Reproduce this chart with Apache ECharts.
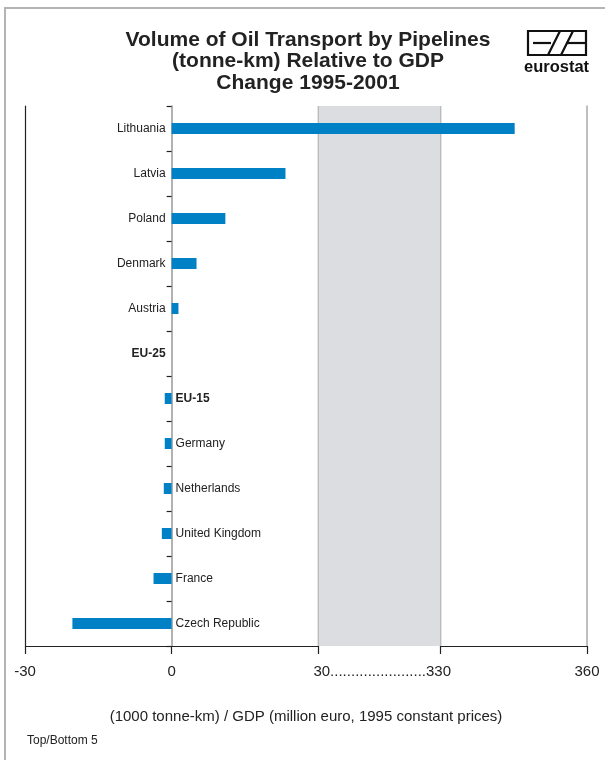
<!DOCTYPE html>
<html>
<head>
<meta charset="utf-8">
<script src="https://cdn.jsdelivr.net/npm/echarts@6/dist/echarts.min.js"></script>
<style>
html,body{margin:0;padding:0;background:#fff;}
#c{width:605px;height:760px;}
</style>
</head>
<body>
<div id="c"></div>
<script>
const categories = ['Lithuania','Latvia','Poland','Denmark','Austria','EU-25','EU-15','Germany','Netherlands','United Kingdom','France','Czech Republic'];
const values = [345.2, 23.3, 11.0, 5.1, 1.4, 0, -1.4, -1.4, -1.6, -2.0, -3.7, -20.3];
const boldCats = ['EU-25','EU-15'];
const xTicks = { min: -30, max: 360, interval: 30 };
const breakRange = { start: 30, end: 330, gap: 25 };

const FONT = 'Liberation Sans, Arial, sans-serif';
const chart = echarts.init(document.getElementById('c'), null, { renderer: 'canvas' });

const seriesData = values.map((v, i) => ({
  value: v,
  label: {
    show: true,
    position: v >= 0 ? 'left' : 'right',
    distance: v >= 0 ? 6 : 4,
    formatter: '{b}',
    fontFamily: FONT,
    fontSize: 12,
    color: '#222',
    fontWeight: boldCats.includes(categories[i]) ? 'bold' : 'normal'
  }
}));

const option = {
  animation: false,
  backgroundColor: '#fff',
  title: {
    text: 'Volume of Oil Transport by Pipelines\n(tonne-km) Relative to GDP\nChange 1995-2001',
    left: 303, top: 24, textAlign: 'center',
    textStyle: { fontFamily: FONT, fontSize: 21, fontWeight: 'bold', color: '#222', lineHeight: 21.5 }
  },
  grid: { left: 25, right: 18, top: 106, bottom: 114, containLabel: false },
  xAxis: {
    type: 'value',
    min: xTicks.min, max: xTicks.max, interval: xTicks.interval,
    breaks: [{ start: breakRange.start, end: breakRange.end, gap: breakRange.gap }],
    breakArea: {
      show: true,
      itemStyle: { color: '#dcdde0', borderColor: '#999', borderWidth: 1.5, borderType: 'solid', opacity: 1 },
      zigzagAmplitude: 0,
      expandOnClick: false
    },
    breakLabelLayout: { moveOverlap: false },
    axisLine: { show: true, onZero: false, lineStyle: { color: '#222', width: 1.2 } },
    axisTick: { show: true, length: 8, inside: false, lineStyle: { color: '#222', width: 1.2 } },
    splitLine: { show: false },
    axisLabel: {
      fontFamily: FONT, fontSize: 15, color: '#222', margin: 18,
      formatter: function (v) {
        if (v === 30) return '{d|30.......................330}';
        if (v === 330) return '';
        return String(v);
      },
      rich: { d: { fontFamily: FONT, fontSize: 15, color: '#222', padding: [0, 0, 0, 128] } }
    },
    name: '(1000 tonne-km) / GDP (million euro, 1995 constant prices)',
    nameLocation: 'middle', nameGap: 63,
    nameTextStyle: { fontFamily: FONT, fontSize: 15, color: '#222' }
  },
  yAxis: [
    {
      type: 'category', data: categories, inverse: true, position: 'left',
      axisLine: { onZero: true, lineStyle: { color: '#999', width: 1.5 } },
      axisTick: { show: true, length: 5, inside: false, lineStyle: { color: '#222', width: 1.2 } },
      axisLabel: { show: false }, splitLine: { show: false }
    },
    {
      type: 'category', data: categories, inverse: true, position: 'left',
      axisLine: { onZero: false, lineStyle: { color: '#222', width: 1.2 } },
      axisTick: { show: false }, axisLabel: { show: false }, splitLine: { show: false }
    },
    {
      type: 'category', data: categories, inverse: true, position: 'right',
      axisLine: { onZero: false, lineStyle: { color: '#aaa', width: 1.5 } },
      axisTick: { show: false }, axisLabel: { show: false }, splitLine: { show: false }
    }
  ],
  series: [{
    type: 'bar', yAxisIndex: 0, barWidth: 11,
    itemStyle: { color: '#0081c6' },
    data: seriesData,
    zlevel: 1, z: 5
  }],
  graphic: [
    { type: 'rect', shape: { x: 5, y: 8, width: 700, height: 800 }, style: { fill: null, stroke: '#b4b4b4', lineWidth: 2 }, silent: true },
    { type: 'rect', shape: { x: 528, y: 31, width: 58, height: 24 }, style: { fill: null, stroke: '#111', lineWidth: 2.2 } },
    { type: 'line', shape: { x1: 533, y1: 43, x2: 551, y2: 43 }, style: { stroke: '#111', lineWidth: 2.2 } },
    { type: 'line', shape: { x1: 548, y1: 55, x2: 560, y2: 31 }, style: { stroke: '#111', lineWidth: 2.2 } },
    { type: 'line', shape: { x1: 561, y1: 55, x2: 573, y2: 31 }, style: { stroke: '#111', lineWidth: 2.2 } },
    { type: 'line', shape: { x1: 566, y1: 43, x2: 586, y2: 43 }, style: { stroke: '#111', lineWidth: 2.2 } },
    { type: 'text', left: 524, top: 59, style: { text: 'eurostat', font: 'bold 16.5px ' + FONT, fill: '#111' } },
    { type: 'text', left: 27, top: 735, style: { text: 'Top/Bottom 5', font: '12px ' + FONT, fill: '#222' } }
  ]
};
chart.setOption(option);
</script>
</body>
</html>
